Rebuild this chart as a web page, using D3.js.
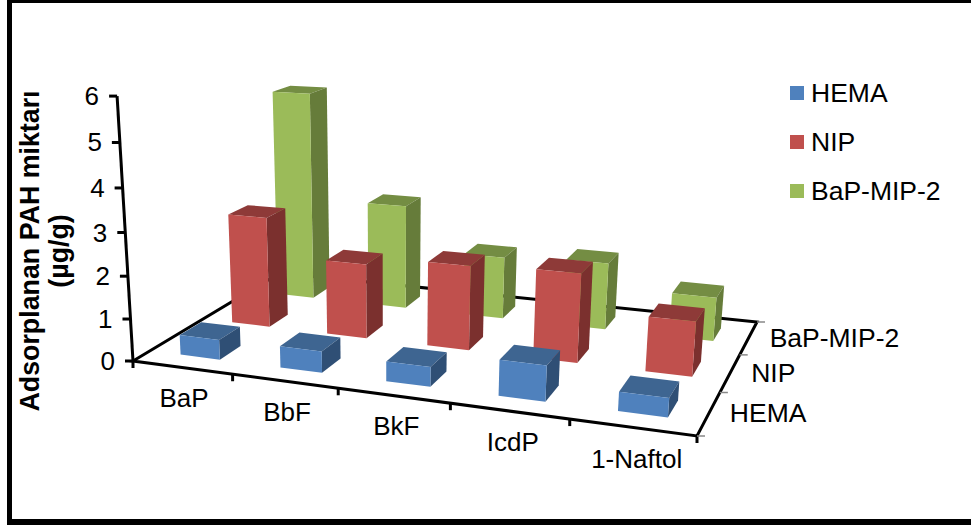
<!DOCTYPE html>
<html><head><meta charset="utf-8">
<script src="https://cdn.jsdelivr.net/npm/d3@7"></script>
<style>html,body{margin:0;padding:0;background:#fff}svg{display:block}text{font-family:"Liberation Sans",Arial,sans-serif;fill:#000}</style>
</head><body><div id="c"></div>
<script>
const categories = ["BaP","BbF","BkF","IcdP","1-Naftol"];
const seriesNames = ["HEMA","NIP","BaP-MIP-2"];
const hema = [0.47,0.5,0.45,0.8,0.42];
const nip = [2.7,1.8,2.0,2.07,1.25];
const bapMip = [5.23,2.6,1.53,1.62,1.05];
const yTicks = [0,1,2,3,4,5,6];
const faceColors = {
  "HEMA":{front:"#4F81BD",top:"#3E6591",side:"#2F4F75"},
  "NIP":{front:"#C0504D",top:"#8E3A38",side:"#7B302E"},
  "BaP-MIP-2":{front:"#9BBB59",top:"#748D43",side:"#667C3A"}
};
const values = [hema,nip,bapMip];

const W=971,H=526;
const svg=d3.select("#c").append("svg").attr("width",W).attr("height",H);

// perspective frame of the floor
const A=[133,361],B=[697,436],C=[757,322],D=[280,273],VP=[390,4640];
const dx1=B[0]-C[0],dx2=D[0]-C[0],sx=A[0]-B[0]+C[0]-D[0];
const dy1=B[1]-C[1],dy2=D[1]-C[1],sy=A[1]-B[1]+C[1]-D[1];
const den=dx1*dy2-dx2*dy1;
const g=(sx*dy2-dx2*sy)/den,h=(dx1*sy-sx*dy1)/den;
const m=[B[0]-A[0]+g*B[0],D[0]-A[0]+h*D[0],A[0],B[1]-A[1]+g*B[1],D[1]-A[1]+h*D[1],A[1]];
const tScale=d3.scaleLinear().domain([0,6]).range([0,-0.0583]);
function proj(u,v,val){
  const t=tScale(val||0);
  const w=g*u+h*v+1+t;
  return [(m[0]*u+m[1]*v+m[2]+t*VP[0])/w,(m[3]*u+m[4]*v+m[5]+t*VP[1])/w];
}
const uBar=d3.scaleBand().domain(categories).range([0.003,1.003]).paddingInner(.6).paddingOuter(.3);
const vBar=d3.scaleBand().domain(seriesNames).range([0,1]).paddingInner(.6).paddingOuter(.3);
const uTick=d3.scaleBand().domain(categories).range([0,1]);
const vTick=d3.scaleBand().domain(seriesNames).range([0,1]);

// frame
const frame=svg.append("g").attr("fill","#000");
frame.append("rect").attr("x",7).attr("y",0).attr("width",W-7).attr("height",3);
frame.append("rect").attr("x",7).attr("y",0).attr("width",5).attr("height",525);
frame.append("rect").attr("x",7).attr("y",519).attr("width",W-7).attr("height",6);

const axisG=svg.append("g").attr("stroke","#000").attr("stroke-width",3).attr("fill","none");
const line=d3.line();
// floor edges
axisG.append("path").attr("d",line([proj(0,1),proj(1,1),proj(1,0),proj(0,0),proj(0,1)]));
// value axis
axisG.append("path").attr("d",line([proj(0,0,0),proj(0,0,6)]));
yTicks.forEach(t=>{
  const p=proj(0,0,t);
  axisG.append("path").attr("d",line([p,[p[0]-8,p[1]]]));
  svg.append("text").attr("x",p[0]-18).attr("y",p[1]+9).attr("text-anchor","end").attr("font-size",26).text(t);
});
// category ticks
[...categories.map(c=>uTick(c)),1].forEach(u=>{
  const p=proj(u,0);
  axisG.append("path").attr("d",line([p,[p[0],p[1]+7]]));
});
categories.forEach(c=>{
  const p=proj(uTick(c)+uTick.bandwidth()/2,-0.03);
  svg.append("text").attr("x",p[0]+7).attr("y",p[1]+36).attr("text-anchor","middle").attr("font-size",26).text(c);
});
// series ticks
[...seriesNames.map(s=>vTick(s)),1].forEach(v=>{
  const p=proj(1,v);
  svg.append("path").attr("d",line([p,[p[0]+8,p[1]]])).attr("stroke","#888").attr("stroke-width",1.5);
});
seriesNames.forEach(s=>{
  const p=proj(1,vTick(s)+vTick.bandwidth()/2);
  svg.append("text").attr("x",p[0]+21).attr("y",p[1]+9).attr("font-size",26.5).text(s);
});
// bars back to front
const poly=pts=>"M"+pts.map(p=>p.join(",")).join("L")+"Z";
const barsG=svg.append("g");
d3.range(seriesNames.length-1,-1,-1).forEach(si=>{
  const s=seriesNames[si],col=faceColors[s];
  categories.forEach((c,ci)=>{
    const val=values[si][ci];
    const u0=uBar(c),u1=u0+uBar.bandwidth(),v0=vBar(s),v1=v0+vBar.bandwidth();
    barsG.append("path").attr("d",poly([proj(u0,v0,val),proj(u1,v0,val),proj(u1,v1,val),proj(u0,v1,val)])).attr("fill",col.top);
    barsG.append("path").attr("d",poly([proj(u1,v0,0),proj(u1,v1,0),proj(u1,v1,val),proj(u1,v0,val)])).attr("fill",col.side);
    barsG.append("path").attr("d",poly([proj(u0,v0,0),proj(u1,v0,0),proj(u1,v0,val),proj(u0,v0,val)])).attr("fill",col.front);
  });
});
// axis title
const title=svg.append("g").attr("transform","translate(39,251) rotate(-90)");
title.append("text").attr("text-anchor","middle").attr("font-size",26.8).attr("font-weight","bold").text("Adsorplanan PAH miktarı");
title.append("text").attr("y",29).attr("text-anchor","middle").attr("font-size",26.8).attr("font-weight","bold").text("(µg/g)");
// legend
const legY=d3.scalePoint().domain(seriesNames).range([93,191]);
seriesNames.forEach(s=>{
  svg.append("rect").attr("x",790).attr("y",legY(s)-7).attr("width",14).attr("height",14).attr("fill",faceColors[s].front);
  svg.append("text").attr("x",811).attr("y",legY(s)+9).attr("font-size",26.5).text(s);
});
</script></body></html>
